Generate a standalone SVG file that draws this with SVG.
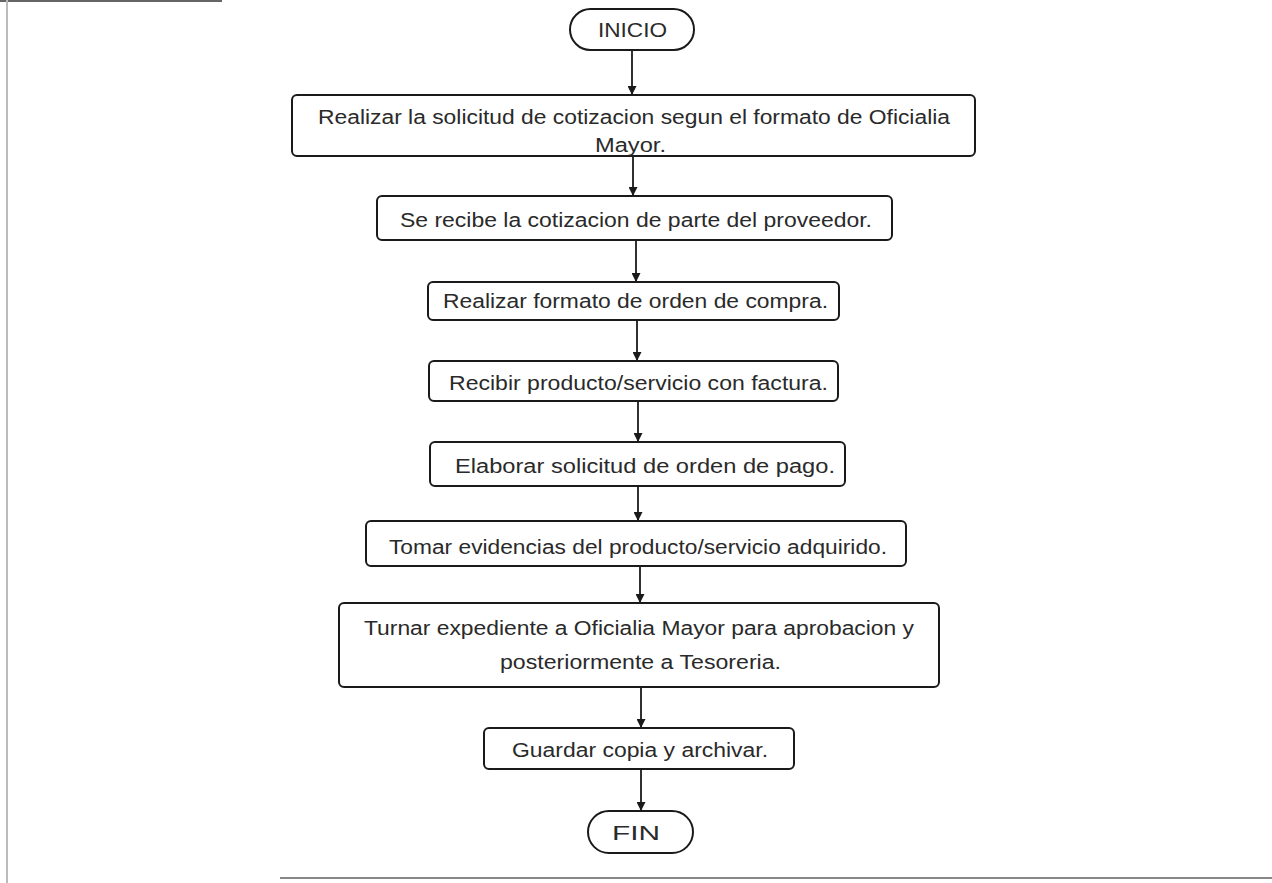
<svg xmlns="http://www.w3.org/2000/svg" width="1272" height="883" viewBox="0 0 1272 883">
<defs>
<style>
.box{fill:#fff;stroke:#1a1a1a;stroke-width:2}
.t{font-family:"Liberation Sans",Arial,sans-serif;font-size:20px;fill:#2a2a2a;text-anchor:middle}
.c{stroke:#1a1a1a;stroke-width:1.8;fill:none}
.pg{stroke-width:2;fill:none}
</style>
<marker id="ah" viewBox="0 0 10 10" refX="10" refY="5" markerWidth="9" markerHeight="9" markerUnits="userSpaceOnUse" orient="auto">
<path d="M0,0 L10,5 L0,10 z" fill="#1a1a1a"/>
</marker>
</defs>
<rect width="1272" height="883" fill="#fff"/>
<g id="page">
<line class="pg" x1="0" y1="1" x2="222" y2="1" stroke="#666"/>
<line class="pg" x1="7" y1="0" x2="7" y2="883" stroke="#bbb"/>
<line class="pg" x1="280" y1="878" x2="1272" y2="878" stroke="#888"/>
</g>
<g id="connectors">
<line class="c" x1="632" y1="50" x2="632" y2="95" marker-end="url(#ah)"/>
<line class="c" x1="633" y1="156" x2="633" y2="196" marker-end="url(#ah)"/>
<line class="c" x1="636" y1="240" x2="636" y2="282" marker-end="url(#ah)"/>
<line class="c" x1="637" y1="320" x2="637" y2="361" marker-end="url(#ah)"/>
<line class="c" x1="638" y1="401" x2="638" y2="442" marker-end="url(#ah)"/>
<line class="c" x1="638" y1="486" x2="638" y2="521" marker-end="url(#ah)"/>
<line class="c" x1="640" y1="566" x2="640" y2="603" marker-end="url(#ah)"/>
<line class="c" x1="641" y1="687" x2="641" y2="728" marker-end="url(#ah)"/>
<line class="c" x1="641" y1="769" x2="641" y2="811" marker-end="url(#ah)"/>
</g>
<g id="inicio">
<rect class="box" x="570" y="9" width="124" height="41" rx="20.5"/>
<text class="t" x="632.5" y="37" textLength="69" lengthAdjust="spacingAndGlyphs">INICIO</text>
</g>
<g id="n1">
<rect class="box" x="292" y="95" width="683" height="61" rx="5"/>
<text class="t" x="634" y="124" textLength="632" lengthAdjust="spacingAndGlyphs">Realizar la solicitud de cotizacion segun el formato de Oficialia</text>
<text class="t" x="630.5" y="152" textLength="71" lengthAdjust="spacingAndGlyphs">Mayor.</text>
</g>
<g id="n2">
<rect class="box" x="377" y="196" width="515" height="44" rx="5"/>
<text class="t" x="636" y="227" textLength="472" lengthAdjust="spacingAndGlyphs">Se recibe la cotizacion de parte del proveedor.</text>
</g>
<g id="n3">
<rect class="box" x="428" y="282" width="411" height="38" rx="5"/>
<text class="t" x="635.5" y="308" textLength="385" lengthAdjust="spacingAndGlyphs">Realizar formato de orden de compra.</text>
</g>
<g id="n4">
<rect class="box" x="429" y="361" width="409" height="40" rx="5"/>
<text class="t" x="638.5" y="390" textLength="379" lengthAdjust="spacingAndGlyphs">Recibir producto/servicio con factura.</text>
</g>
<g id="n5">
<rect class="box" x="430" y="442" width="415" height="44" rx="5"/>
<text class="t" x="645" y="473" textLength="380" lengthAdjust="spacingAndGlyphs">Elaborar solicitud de orden de pago.</text>
</g>
<g id="n6">
<rect class="box" x="366" y="521" width="540" height="45" rx="5"/>
<text class="t" x="638" y="554" textLength="498" lengthAdjust="spacingAndGlyphs">Tomar evidencias del producto/servicio adquirido.</text>
</g>
<g id="n7">
<rect class="box" x="339" y="603" width="600" height="84" rx="5"/>
<text class="t" x="639" y="635" textLength="550" lengthAdjust="spacingAndGlyphs">Turnar expediente a Oficialia Mayor para aprobacion y</text>
<text class="t" x="640.5" y="669" textLength="281" lengthAdjust="spacingAndGlyphs">posteriormente a Tesoreria.</text>
</g>
<g id="n8">
<rect class="box" x="484" y="728" width="310" height="41" rx="5"/>
<text class="t" x="640" y="757" textLength="256" lengthAdjust="spacingAndGlyphs">Guardar copia y archivar.</text>
</g>
<g id="fin">
<rect class="box" x="588" y="811" width="105" height="42" rx="21"/>
<text class="t" x="636" y="840" textLength="48" lengthAdjust="spacingAndGlyphs">FIN</text>
</g>
</svg>
